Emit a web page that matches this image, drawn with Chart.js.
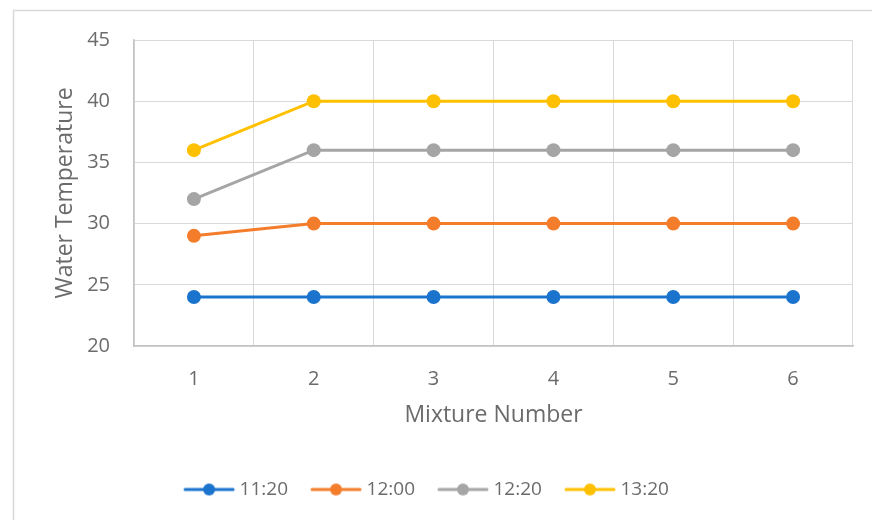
<!DOCTYPE html>
<html>
<head>
<meta charset="utf-8">
<script src="https://cdn.jsdelivr.net/npm/chart.js@4"></script>
<style>
  html, body { margin: 0; padding: 0; background: #fff; }
  #wrap { width: 872px; height: 520px; position: relative; }
</style>
</head>
<body>
<div id="wrap"><canvas id="chart" width="872" height="520"></canvas></div>
<script>
// Mixture numbers on the x axis
const mixtures = ['1', '2', '3', '4', '5', '6'];

// Water temperature readings per time of day
const t1120 = [24, 24, 24, 24, 24, 24];
const t1200 = [29, 30, 30, 30, 30, 30];
const t1220 = [32, 36, 36, 36, 36, 36];
const t1320 = [36, 40, 40, 40, 40, 40];

const seriesNames = ['11:20', '12:00', '12:20', '13:20'];
const seriesColors = ['#1A73CC', '#F47D2C', '#A5A5A5', '#FFC000'];

const FONT = "'Open Sans', 'Liberation Sans', sans-serif";
const TEXT = '#6b6b6b';

// Legend swatch: short line with a dot in the middle.
// The image is centred on the legend box, so the line is shifted a little
// to the right inside a wider canvas to sit closer to the label text.
function swatch(color) {
  const c = document.createElement('canvas');
  c.width = 60; c.height = 14;
  const g = c.getContext('2d');
  g.strokeStyle = color; g.lineWidth = 3; g.lineCap = 'round';
  g.beginPath(); g.moveTo(8, 7); g.lineTo(56, 7); g.stroke();
  g.fillStyle = color;
  g.beginPath(); g.arc(32, 7, 6, 0, Math.PI * 2); g.fill();
  return c;
}

// Light frame around the chart
const framePlugin = {
  id: 'frame',
  beforeDraw(chart) {
    const ctx = chart.ctx;
    ctx.save();
    ctx.strokeStyle = '#d9d9d9';
    ctx.lineWidth = 1.5;
    ctx.strokeRect(13.5, 10.5, 900, 600);
    ctx.restore();
  }
};

const data = {
  labels: mixtures,
  datasets: [t1120, t1200, t1220, t1320].map((vals, i) => ({
    label: seriesNames[i],
    data: vals,
    borderColor: seriesColors[i],
    backgroundColor: seriesColors[i],
    borderWidth: 3,
    pointRadius: 7,
    pointHoverRadius: 7,
    pointBorderWidth: 0,
    pointStyle: 'circle',
    tension: 0
  }))
};

new Chart(document.getElementById('chart'), {
  type: 'line',
  data,
  plugins: [framePlugin],
  options: {
    responsive: false,
    animation: false,
    layout: { padding: { left: 0, right: 19, top: 40, bottom: 11 } },
    plugins: {
      tooltip: { enabled: false },
      legend: {
        position: 'bottom',
        labels: {
          usePointStyle: true,
          pointStyleWidth: 46,
          padding: 23,
          color: TEXT,
          font: { family: FONT, size: 19 },
          generateLabels(chart) {
            return chart.data.datasets.map((ds, i) => ({
              text: ds.label,
              fillStyle: ds.borderColor,
              strokeStyle: ds.borderColor,
              fontColor: TEXT,
              lineWidth: 0,
              pointStyle: swatch(ds.borderColor),
              datasetIndex: i,
              hidden: false
            }));
          }
        }
      }
    },
    scales: {
      x: {
        type: 'category',
        offset: true,
        grid: { offset: true, color: '#d9d9d9', lineWidth: 1, drawTicks: false },
        border: { color: '#c4c4c4', width: 1.5 },
        ticks: { color: TEXT, font: { family: FONT, size: 20 }, padding: 21 },
        title: {
          display: true,
          text: 'Mixture Number',
          color: TEXT,
          font: { family: FONT, size: 23 },
          padding: { top: 0, bottom: 28 }
        },
        afterFit(scale) { scale.height = 111; }
      },
      y: {
        min: 20,
        max: 45,
        ticks: { stepSize: 5, color: TEXT, font: { family: FONT, size: 20 }, padding: 24 },
        grid: { color: '#d9d9d9', lineWidth: 1, drawTicks: false },
        border: { color: '#c4c4c4', width: 1.5 },
        title: {
          display: true,
          text: 'Water Temperature',
          color: TEXT,
          font: { family: FONT, size: 23 },
          padding: { top: 52, bottom: 0 }
        },
        afterFit(scale) { scale.width = 134; }
      }
    }
  }
});
</script>
</body>
</html>
